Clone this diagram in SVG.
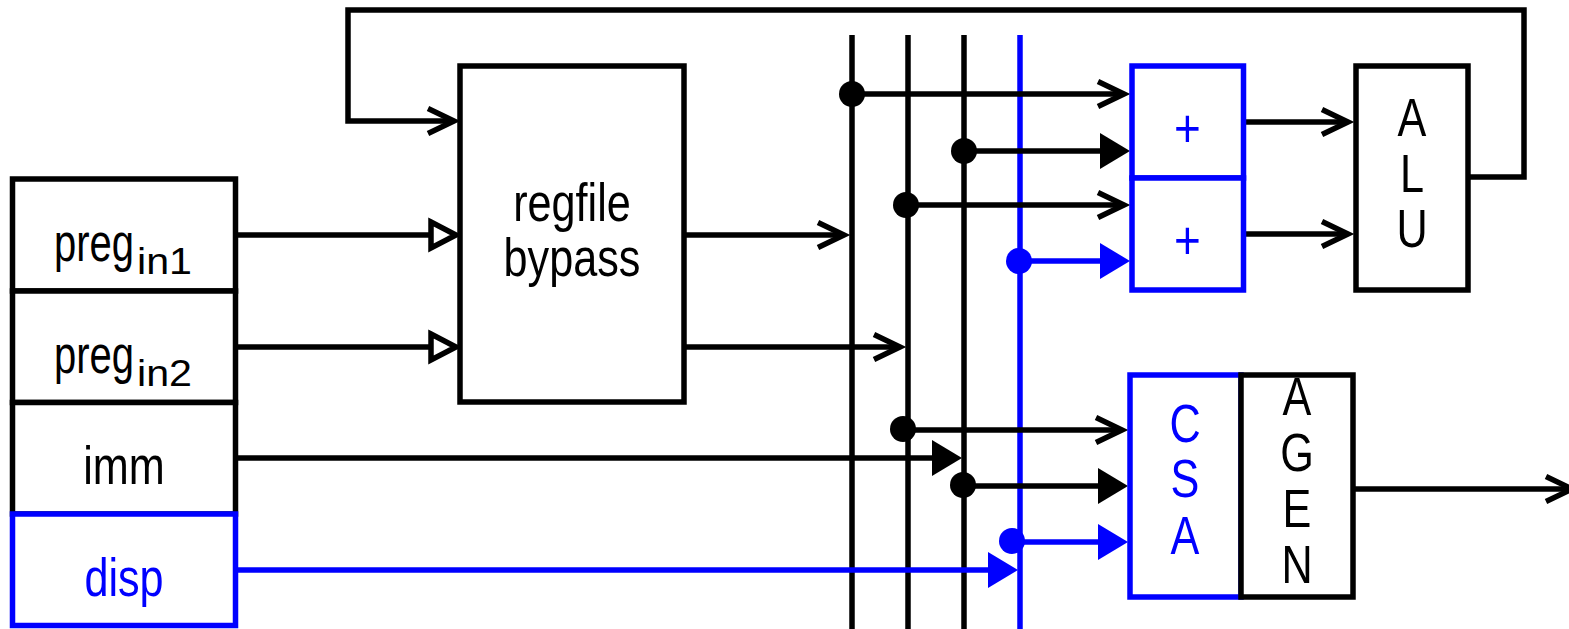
<svg xmlns="http://www.w3.org/2000/svg" width="1569" height="629" viewBox="0 0 1569 629">
<style>
.k{stroke:#000;stroke-width:5.5;fill:none}
.b{stroke:#0000ff;stroke-width:5.5;fill:none}
.box{stroke:#000;stroke-width:5.5;fill:#fff}
.bbox{stroke:#0000ff;stroke-width:5.5;fill:#fff}
.dk{fill:#000}
.db{fill:#0000ff}
text{font-family:"Liberation Sans",Arial,Helvetica,sans-serif;font-size:54px;text-anchor:middle;fill:#000}
.tb{fill:#0000ff}
.s{text-anchor:start}
</style>
<defs>
<marker id="chev" viewBox="-34 -20 44 40" refX="0" refY="0" markerWidth="44" markerHeight="40" markerUnits="userSpaceOnUse" orient="auto" overflow="visible">
<path d="M-26,-12.5 L0,0 L-26,12.5" fill="none" stroke="#000" stroke-width="5.5"/>
</marker>
<marker id="hollow" viewBox="-34 -20 44 40" refX="0" refY="0" markerWidth="44" markerHeight="40" markerUnits="userSpaceOnUse" orient="auto" overflow="visible">
<path d="M-25,-13 L0,0 L-25,13 Z" fill="#fff" stroke="#000" stroke-width="5.5"/>
</marker>
<marker id="triK" viewBox="-34 -20 44 40" refX="-10" refY="0" markerWidth="44" markerHeight="40" markerUnits="userSpaceOnUse" orient="auto" overflow="visible">
<path d="M-30,-18 L0,0 L-30,18 Z" fill="#000"/>
</marker>
<marker id="triB" viewBox="-34 -20 44 40" refX="-10" refY="0" markerWidth="44" markerHeight="40" markerUnits="userSpaceOnUse" orient="auto" overflow="visible">
<path d="M-30,-18 L0,0 L-30,18 Z" fill="#0000ff"/>
</marker>
</defs>
<rect width="1569" height="629" fill="#fff"/>

<g id="connectors">
<polyline class="k" points="1468,177 1524,177 1524,10 348,10 348,121 454,121" marker-end="url(#chev)"/>
<line class="k" x1="238" y1="235" x2="456" y2="235" marker-end="url(#hollow)"/>
<line class="k" x1="238" y1="347" x2="456" y2="347" marker-end="url(#hollow)"/>
<line class="k" x1="684" y1="235" x2="844" y2="235" marker-end="url(#chev)"/>
<line class="k" x1="684" y1="347" x2="900" y2="347" marker-end="url(#chev)"/>
<line class="k" x1="852" y1="35" x2="852" y2="629"/>
<line class="k" x1="908" y1="35" x2="908" y2="629"/>
<line class="k" x1="964" y1="35" x2="964" y2="629"/>
<line class="b" x1="1020" y1="35" x2="1020" y2="629"/>
<line class="k" x1="238" y1="458" x2="952" y2="458" marker-end="url(#triK)"/>
<line class="b" x1="238" y1="570" x2="1008" y2="570" marker-end="url(#triB)"/>
<line class="k" x1="852" y1="94" x2="1124" y2="94" marker-end="url(#chev)"/>
<circle class="dk" cx="852" cy="94" r="13"/>
<line class="k" x1="964" y1="151" x2="1120" y2="151" marker-end="url(#triK)"/>
<circle class="dk" cx="964" cy="151" r="13"/>
<line class="k" x1="908" y1="205" x2="1124" y2="205" marker-end="url(#chev)"/>
<circle class="dk" cx="906" cy="205" r="13"/>
<line class="b" x1="1020" y1="261" x2="1120" y2="261" marker-end="url(#triB)"/>
<circle class="db" cx="1019" cy="261" r="13"/>
<line class="k" x1="903" y1="430" x2="1122" y2="430" marker-end="url(#chev)"/>
<circle class="dk" cx="903" cy="429" r="13"/>
<line class="k" x1="963" y1="486" x2="1118" y2="486" marker-end="url(#triK)"/>
<circle class="dk" cx="963" cy="485" r="13"/>
<line class="b" x1="1012" y1="542" x2="1118" y2="542" marker-end="url(#triB)"/>
<circle class="db" cx="1012" cy="541" r="13"/>
<line class="k" x1="1243" y1="122" x2="1348" y2="122" marker-end="url(#chev)"/>
<line class="k" x1="1243" y1="234" x2="1348" y2="234" marker-end="url(#chev)"/>
<line class="k" x1="1353" y1="489" x2="1572" y2="489" marker-end="url(#chev)"/>
</g>

<g id="preg_in1">
<rect class="box" x="12.5" y="179" width="223" height="112"/>
<text class="s"><tspan x="54" y="261" textLength="80" lengthAdjust="spacingAndGlyphs" font-size="54">preg</tspan><tspan x="137" y="274" textLength="55" lengthAdjust="spacingAndGlyphs" font-size="37">in1</tspan></text>
</g>
<g id="preg_in2">
<rect class="box" x="12.5" y="291" width="223" height="111.5"/>
<text class="s"><tspan x="54" y="373" textLength="80" lengthAdjust="spacingAndGlyphs" font-size="54">preg</tspan><tspan x="137" y="386" textLength="55" lengthAdjust="spacingAndGlyphs" font-size="37">in2</tspan></text>
</g>
<g id="imm">
<rect class="box" x="12.5" y="402.5" width="223" height="111.5"/>
<text transform="translate(124,484) scale(0.8,1)" font-size="55">imm</text>
</g>
<g id="disp">
<rect class="bbox" x="12.5" y="514" width="223" height="111.5"/>
<text class="tb" transform="translate(124,596) scale(0.8,1)" font-size="55">disp</text>
</g>
<g id="regfile">
<rect class="box" x="460" y="66" width="224" height="336"/>
<text transform="translate(572,221) scale(0.8,1)">regfile</text>
<text transform="translate(572,276) scale(0.8,1)">bypass</text>
</g>
<g id="add1">
<rect class="bbox" x="1132" y="66" width="111.5" height="112"/>
<text class="tb" transform="translate(1187.5,147) scale(0.85,1)">+</text>
</g>
<g id="add2">
<rect class="bbox" x="1132" y="178" width="111.5" height="112"/>
<text class="tb" transform="translate(1187.5,259) scale(0.85,1)">+</text>
</g>
<g id="alu">
<rect class="box" x="1356" y="66" width="112" height="224"/>
<text transform="translate(1412,136) scale(0.8,1)">A</text>
<text transform="translate(1412,191.5) scale(0.8,1)">L</text>
<text transform="translate(1412,247) scale(0.8,1)">U</text>
</g>
<g id="csa">
<rect class="bbox" x="1130" y="375" width="111" height="222"/>
<text class="tb" transform="translate(1185,442) scale(0.8,1)">C</text>
<text class="tb" transform="translate(1185,497) scale(0.8,1)">S</text>
<text class="tb" transform="translate(1185,554) scale(0.8,1)">A</text>
</g>
<g id="agen">
<rect class="box" x="1241" y="375" width="112" height="222"/>
<text transform="translate(1297,415) scale(0.8,1)">A</text>
<text transform="translate(1297,471) scale(0.8,1)">G</text>
<text transform="translate(1297,527) scale(0.8,1)">E</text>
<text transform="translate(1297,583) scale(0.8,1)">N</text>
</g>
</svg>
